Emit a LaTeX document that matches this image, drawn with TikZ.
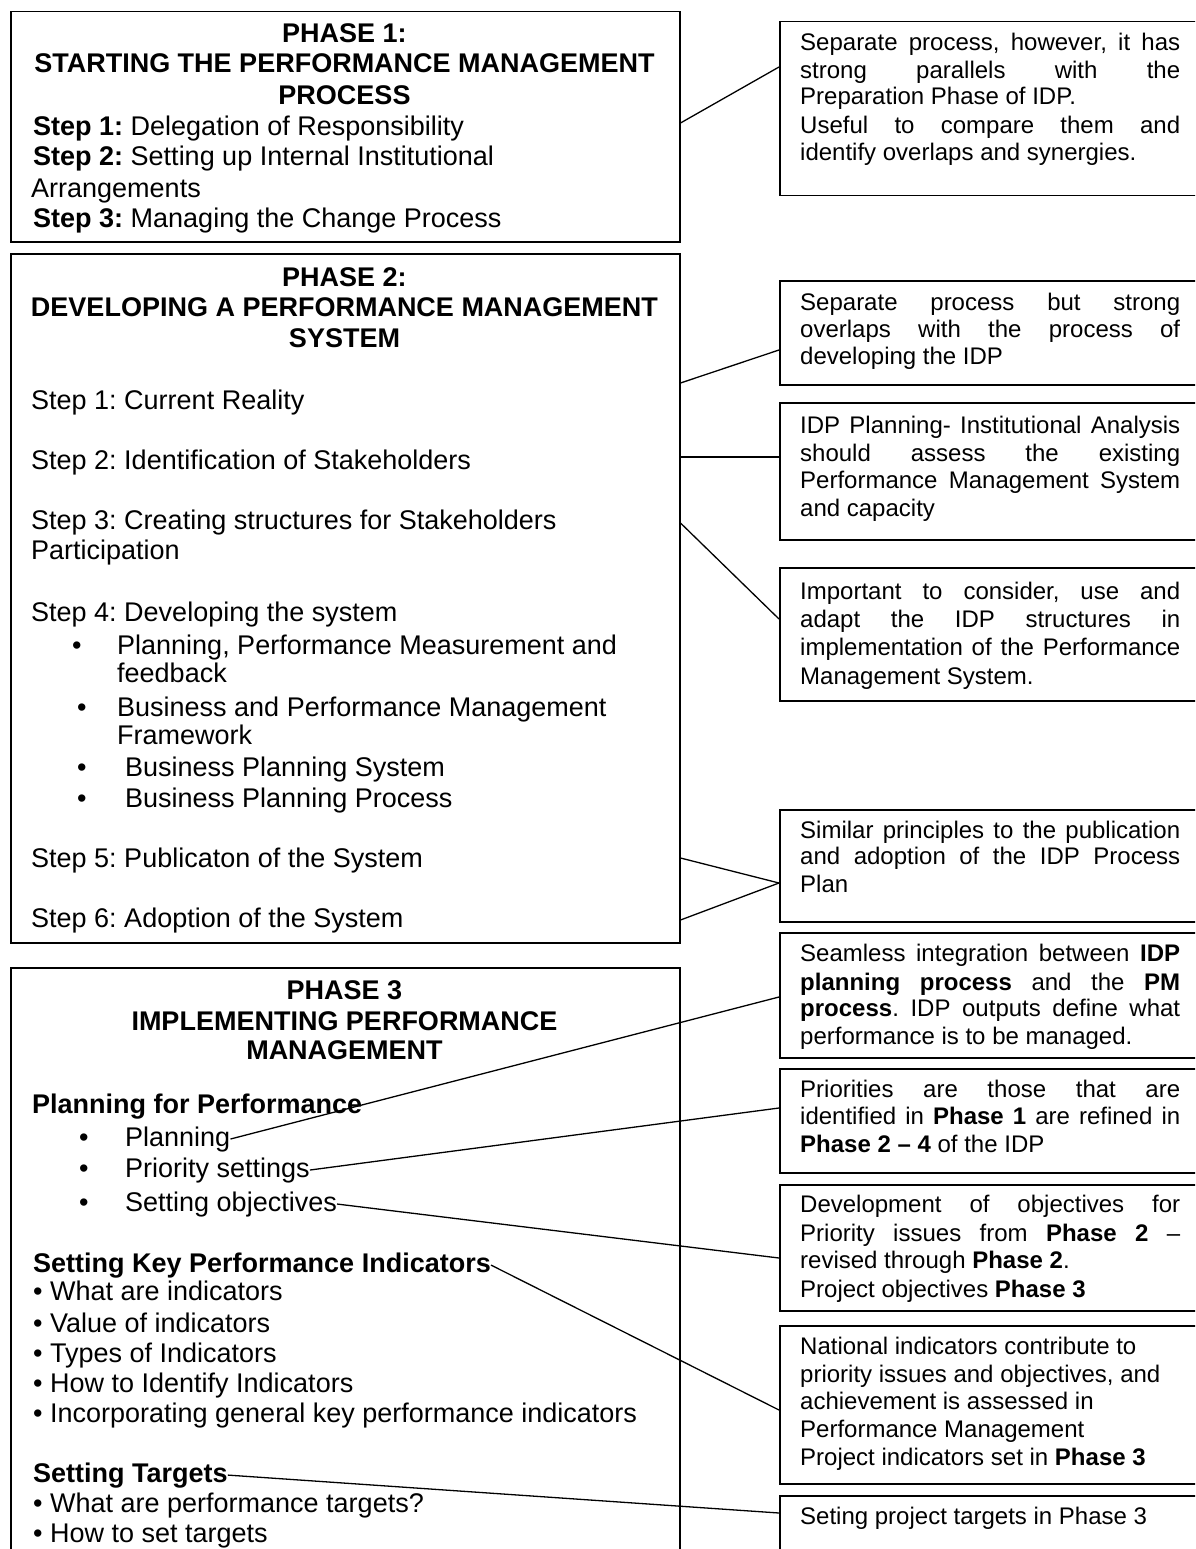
\documentclass[tikz,border=0pt]{standalone}
\usepackage{fontspec}
\setmainfont{Liberation Sans}
\usetikzlibrary{calc}
\newcommand{\jline}[1]{\makebox[380pt][s]{#1}}
\frenchspacing
\begin{document}
\frenchspacing
\begin{tikzpicture}[x=1pt,y=-1pt,
  lbox/.style={draw,line width=1.5pt,inner sep=0pt,anchor=north west,minimum width=669pt},
  rbox/.style={draw,line width=1.5pt,inner sep=0pt,anchor=north west,minimum width=440pt},
  lt/.style={inner sep=0pt,anchor=base west,font=\fontsize{27}{30}\selectfont},
  hd/.style={inner sep=0pt,anchor=base,font=\fontsize{27}{30}\selectfont\bfseries},
  rt/.style={inner sep=0pt,anchor=base west,font=\fontsize{24}{27}\selectfont},
  con/.style={line width=1.3pt}]
\path[use as bounding box] (0,0) rectangle (1195,1549);
\clip (0,0) rectangle (1195,1549);
\fill[white] (0,0) rectangle (1195,1549);

% ---------- left boxes ----------
\node[lbox,minimum height=230pt] (p1) at (10,11) {};
\node[lbox,minimum height=689pt] (p2) at (10,253) {};
\node[lbox,minimum height=700pt] (p3) at (10,967) {};

% Phase 1 text
\node[hd] (p1h1) at (344.5,43) {PHASE 1:};
\node[hd] (p1h2) at (344.5,73) {STARTING THE PERFORMANCE MANAGEMENT};
\node[hd] (p1h3) at (344.5,105) {PROCESS};
\node[lt] (p1s1) at (33,136) {\textbf{Step 1:} Delegation of Responsibility};
\node[lt] (p1s2) at (33,166) {\textbf{Step 2:} Setting up Internal Institutional};
\node[lt] (p1s2b) at (31,197) {Arrangements};
\node[lt] (p1s3) at (33,227) {\textbf{Step 3:} Managing the Change Process};

% Phase 2 text
\node[hd] (p2h1) at (344.5,286) {PHASE 2:};
\node[hd] (p2h2) at (344.5,316) {DEVELOPING A PERFORMANCE MANAGEMENT};
\node[hd] (p2h3) at (344.5,347) {SYSTEM};
\node[lt] (p2s1) at (31,409) {Step 1: Current Reality};
\node[lt] (p2s2) at (31,469) {Step 2: Identification of Stakeholders};
\node[lt] (p2s3) at (31,529) {Step 3: Creating structures for Stakeholders};
\node[lt] (p2s3b) at (31,559) {Participation};
\node[lt] (p2s4) at (31,621) {Step 4: Developing the system};
\node[lt] (p2b1) at (72,654) {\textbullet};
\node[lt] (p2b1t) at (117,654) {Planning, Performance Measurement and};
\node[lt] (p2b1u) at (117,682) {feedback};
\node[lt] (p2b2) at (77,716) {\textbullet};
\node[lt] (p2b2t) at (117,716) {Business and Performance Management};
\node[lt] (p2b2u) at (117,744) {Framework};
\node[lt] (p2b3) at (77,776) {\textbullet};
\node[lt] (p2b3t) at (125,776) {Business Planning System};
\node[lt] (p2b4) at (77,807) {\textbullet};
\node[lt] (p2b4t) at (125,807) {Business Planning Process};
\node[lt] (p2s5) at (31,867) {Step 5: Publicaton of the System};
\node[lt] (p2s6) at (31,927) {Step 6: Adoption of the System};

% Phase 3 text
\node[hd] (p3h1) at (344.5,999) {PHASE 3};
\node[hd] (p3h2) at (344.5,1030) {IMPLEMENTING PERFORMANCE};
\node[hd] (p3h3) at (344.5,1059) {MANAGEMENT};
\node[lt] (pfp) at (32,1113) {\textbf{Planning for Performance}};
\node[lt] (p3b1) at (79,1146) {\textbullet};
\node[lt] (plan) at (125,1146) {Planning};
\node[lt] (p3b2) at (79,1177) {\textbullet};
\node[lt] (prio) at (125,1177) {Priority settings};
\node[lt] (p3b3) at (79,1211) {\textbullet};
\node[lt] (obj) at (125,1211) {Setting objectives};
\node[lt] (kpi) at (33,1272) {\textbf{Setting Key Performance Indicators}};
\node[lt] (k1) at (33,1300) {\textbullet\ What are indicators};
\node[lt] (k2) at (33,1332) {\textbullet\ Value of indicators};
\node[lt] (k3) at (33,1362) {\textbullet\ Types of Indicators};
\node[lt] (k4) at (33,1392) {\textbullet\ How to Identify Indicators};
\node[lt] (k5) at (33,1422) {\textbullet\ Incorporating general key performance indicators};
\node[lt] (tgt) at (33,1482) {\textbf{Setting Targets}};
\node[lt] (t1) at (33,1512) {\textbullet\ What are performance targets?};
\node[lt] (t2) at (33,1542) {\textbullet\ How to set targets};

% ---------- right boxes ----------
\node[rbox,minimum height=174pt] (r1) at (779,21) {};
\node[rbox,minimum height=104pt] (r2) at (779,280) {};
\node[rbox,minimum height=137pt] (r3) at (779,402) {};
\node[rbox,minimum height=133pt] (r4) at (779,567) {};
\node[rbox,minimum height=112pt] (r5) at (779,809) {};
\node[rbox,minimum height=125pt] (r6) at (779,932) {};
\node[rbox,minimum height=104pt] (r7) at (779,1068) {};
\node[rbox,minimum height=126pt] (r8) at (779,1184) {};
\node[rbox,minimum height=158pt] (r9) at (779,1325) {};
\node[rbox,minimum height=120pt] (r10) at (779,1495) {};

% R1
\node[rt] (r1a) at (800,51) {\jline{Separate process, however, it has}};
\node[rt] (r1b) at (800,79) {\jline{strong parallels with the}};
\node[rt] (r1c) at (800,105) {Preparation Phase of IDP.};
\node[rt] (r1d) at (800,134) {\jline{Useful to compare them and}};
\node[rt] (r1e) at (800,161) {identify overlaps and synergies.};
% R2
\node[rt] (r2a) at (800,310) {\jline{Separate process but strong}};
\node[rt] (r2b) at (800,337) {\jline{overlaps with the process of}};
\node[rt] (r2c) at (800,364) {developing the IDP};
% R3
\node[rt] (r3a) at (800,433) {\jline{IDP Planning- Institutional Analysis}};
\node[rt] (r3b) at (800,461) {\jline{should assess the existing}};
\node[rt] (r3c) at (800,488) {\jline{Performance Management System}};
\node[rt] (r3d) at (800,516) {and capacity};
% R4
\node[rt] (r4a) at (800,599) {\jline{Important to consider, use and}};
\node[rt] (r4b) at (800,627) {\jline{adapt the IDP structures in}};
\node[rt] (r4c) at (800,655) {\jline{implementation of the Performance}};
\node[rt] (r4d) at (800,684) {Management System.};
% R5
\node[rt] (r5a) at (800,838) {\jline{Similar principles to the publication}};
\node[rt] (r5b) at (800,864) {\jline{and adoption of the IDP Process}};
\node[rt] (r5c) at (800,892) {Plan};
% R6
\node[rt] (r6a) at (800,961) {\jline{Seamless integration between \textbf{IDP}}};
\node[rt] (r6b) at (800,990) {\jline{\textbf{planning process} and the \textbf{PM}}};
\node[rt] (r6c) at (800,1016) {\jline{\textbf{process}. IDP outputs define what}};
\node[rt] (r6d) at (800,1044) {performance is to be managed.};
% R7
\node[rt] (r7a) at (800,1097) {\jline{Priorities are those that are}};
\node[rt] (r7b) at (800,1124) {\jline{identified in \textbf{Phase 1} are refined in}};
\node[rt] (r7c) at (800,1152) {\textbf{Phase 2 \textendash\ 4} of the IDP};
% R8
\node[rt] (r8a) at (800,1212) {\jline{Development of objectives for}};
\node[rt] (r8b) at (800,1241) {\jline{Priority issues from \textbf{Phase 2} \textendash}};
\node[rt] (r8c) at (800,1268) {revised through \textbf{Phase 2}.};
\node[rt] (r8d) at (800,1297) {Project objectives \textbf{Phase 3}};
% R9
\node[rt] (r9a) at (800,1354) {National indicators contribute to};
\node[rt] (r9b) at (800,1382) {priority issues and objectives, and};
\node[rt] (r9c) at (800,1409) {achievement is assessed in};
\node[rt] (r9d) at (800,1437) {Performance Management};
\node[rt] (r9e) at (800,1465) {Project indicators set in \textbf{Phase 3}};
% R10
\node[rt] (r10a) at (800,1524) {Seting project targets in Phase 3};

% ---------- connectors ----------
\coordinate (a1) at ($(p1.north east)+(0,112)$);
\coordinate (b1) at ($(r1.north west)+(0,46)$);
\coordinate (a2) at ($(p2.north east)+(0,130)$);
\coordinate (b2) at ($(r2.north west)+(0,70)$);
\coordinate (a3) at ($(p2.north east)+(0,204)$);
\coordinate (b3) at ($(r3.north west)+(0,55)$);
\coordinate (a4) at ($(p2.north east)+(0,270)$);
\coordinate (b4) at ($(r4.north west)+(0,52)$);
\coordinate (a5) at ($(p2.north east)+(0,605)$);
\coordinate (a6) at ($(p2.north east)+(0,667)$);
\coordinate (b5) at ($(r5.north west)+(0,74)$);
\coordinate (b6) at ($(r6.north west)+(0,65)$);
\coordinate (b7) at ($(r7.north west)+(0,40)$);
\coordinate (b8) at ($(r8.north west)+(0,74)$);
\coordinate (b9) at ($(r9.north west)+(0,85)$);
\coordinate (b10) at ($(r10.north west)+(0,18)$);

\draw[con] (a1) -- (b1);
\draw[con] (a2) -- (b2);
\draw[con] (a3) -- (b3);
\draw[con] (a4) -- (b4);
\draw[con] (a5) -- (b5);
\draw[con] (a6) -- (b5);
\draw[con] (plan.east) -- (b6);
\draw[con] (prio.east) -- (b7);
\draw[con] (obj.east) -- (b8);
\draw[con] (kpi.east) -- (b9);
\draw[con] (tgt.east) -- (b10);
\end{tikzpicture}
\end{document}
